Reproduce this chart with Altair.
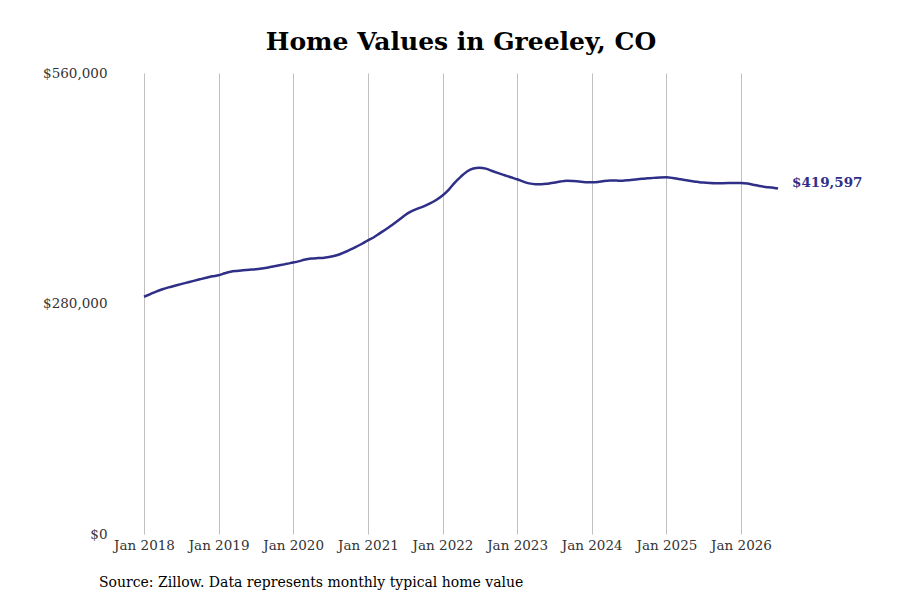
import altair as alt
import pandas as pd

start_month = "2018-01-01"
n_months = 103
values = [
    # 2018
    288200, 291500, 294500, 297300, 299600, 301600, 303500, 305500, 307500, 309400, 311300, 313000,
    # 2019
    314300, 316800, 318600, 319600, 320300, 321000, 321600, 322600, 323800, 325200, 326700, 328200,
    # 2020
    329700, 331500, 333500, 334600, 335200, 335700, 336800, 338600, 341500, 344800, 348400, 352300,
    # 2021
    356600, 360800, 365500, 370400, 375800, 381500, 387200, 391800, 395200, 397900, 401500, 405800,
    # 2022
    411200, 418400, 426500, 434200, 440400, 444000, 445000, 443800, 441000, 438400, 435800, 433300,
    # 2023
    430900, 428000, 425900, 424900, 424800, 425600, 426800, 428200, 429000, 428900, 428100, 427400,
    # 2024
    427200, 427600, 428800, 429400, 429300, 429200, 429800, 430600, 431400, 432000, 432600, 433200,
    # 2025
    433300, 432500, 431200, 430000, 428900, 427800, 426900, 426400, 426200, 426200, 426300, 426500,
    # 2026
    426500, 425800, 424300, 422700, 421600, 420800, 419597,
]
y_ticks = [0, 280000, 560000]
x_ticks = ["2018-01-01", "2019-01-01", "2020-01-01", "2021-01-01", "2022-01-01",
           "2023-01-01", "2024-01-01", "2025-01-01", "2026-01-01"]
title_text = "Home Values in Greeley, CO"
source_text = "Source: Zillow. Data represents monthly typical home value"
end_label = "$419,597"

dates = pd.date_range(start_month, periods=n_months, freq="MS")
df = pd.DataFrame({"date": dates, "value": values})
last = df.tail(1).assign(label=end_label)

FONT = "DejaVu Serif"
NAVY = "#2f2f88"
W, H = 634, 461

x_enc = alt.X(
    "date:T",
    scale=alt.Scale(domain=["2018-01-01", "2026-07-01"]),
    axis=alt.Axis(
        values=[pd.Timestamp(t).isoformat() for t in x_ticks],
        format="%b %Y", title=None, grid=True, gridColor="#c0c0c0", gridWidth=1,
        domain=False, ticks=False, labelPadding=4, labelFontSize=13.5,
        labelFont=FONT, labelColor="#333333", labelOverlap=False, labelFlush=False,
    ),
)
y_enc = alt.Y(
    "value:Q",
    scale=alt.Scale(domain=[0, 560000], nice=False),
    axis=alt.Axis(
        values=y_ticks, format="$,.0f", title=None, grid=False, domain=False,
        ticks=False, labelPadding=37, labelFontSize=13.5, labelFont=FONT,
        labelColor="#333333",
    ),
)

line = alt.Chart(df).mark_line(color=NAVY, strokeWidth=2.5, interpolate="monotone").encode(
    x=x_enc, y=y_enc
)
label = alt.Chart(last).mark_text(
    align="left", baseline="alphabetic", dx=14, dy=-2, font=FONT, fontSize=13.5,
    fontWeight="bold", color=NAVY, clip=False,
).encode(x="date:T", y="value:Q", text="label:N")
source = alt.Chart(pd.DataFrame({"t": [source_text]})).mark_text(
    align="left", baseline="middle", font=FONT, fontSize=14, color="#000000",
).encode(x=alt.value(-45), y=alt.value(H + 49), text="t:N")

chart = alt.layer(line, label, source).properties(
    width=W, height=H,
    background="white",
    title=alt.TitleParams(title_text, font=FONT, fontSize=25, fontWeight="bold",
                          color="#000000", anchor="middle", offset=11),
    autosize=alt.AutoSizeParams(type="none"),
    padding={"left": 136, "top": 65, "right": 114, "bottom": 58},
).configure_view(strokeWidth=0, stroke="transparent")

chart.save("out.html", embed_options={"renderer": "svg", "actions": False})
